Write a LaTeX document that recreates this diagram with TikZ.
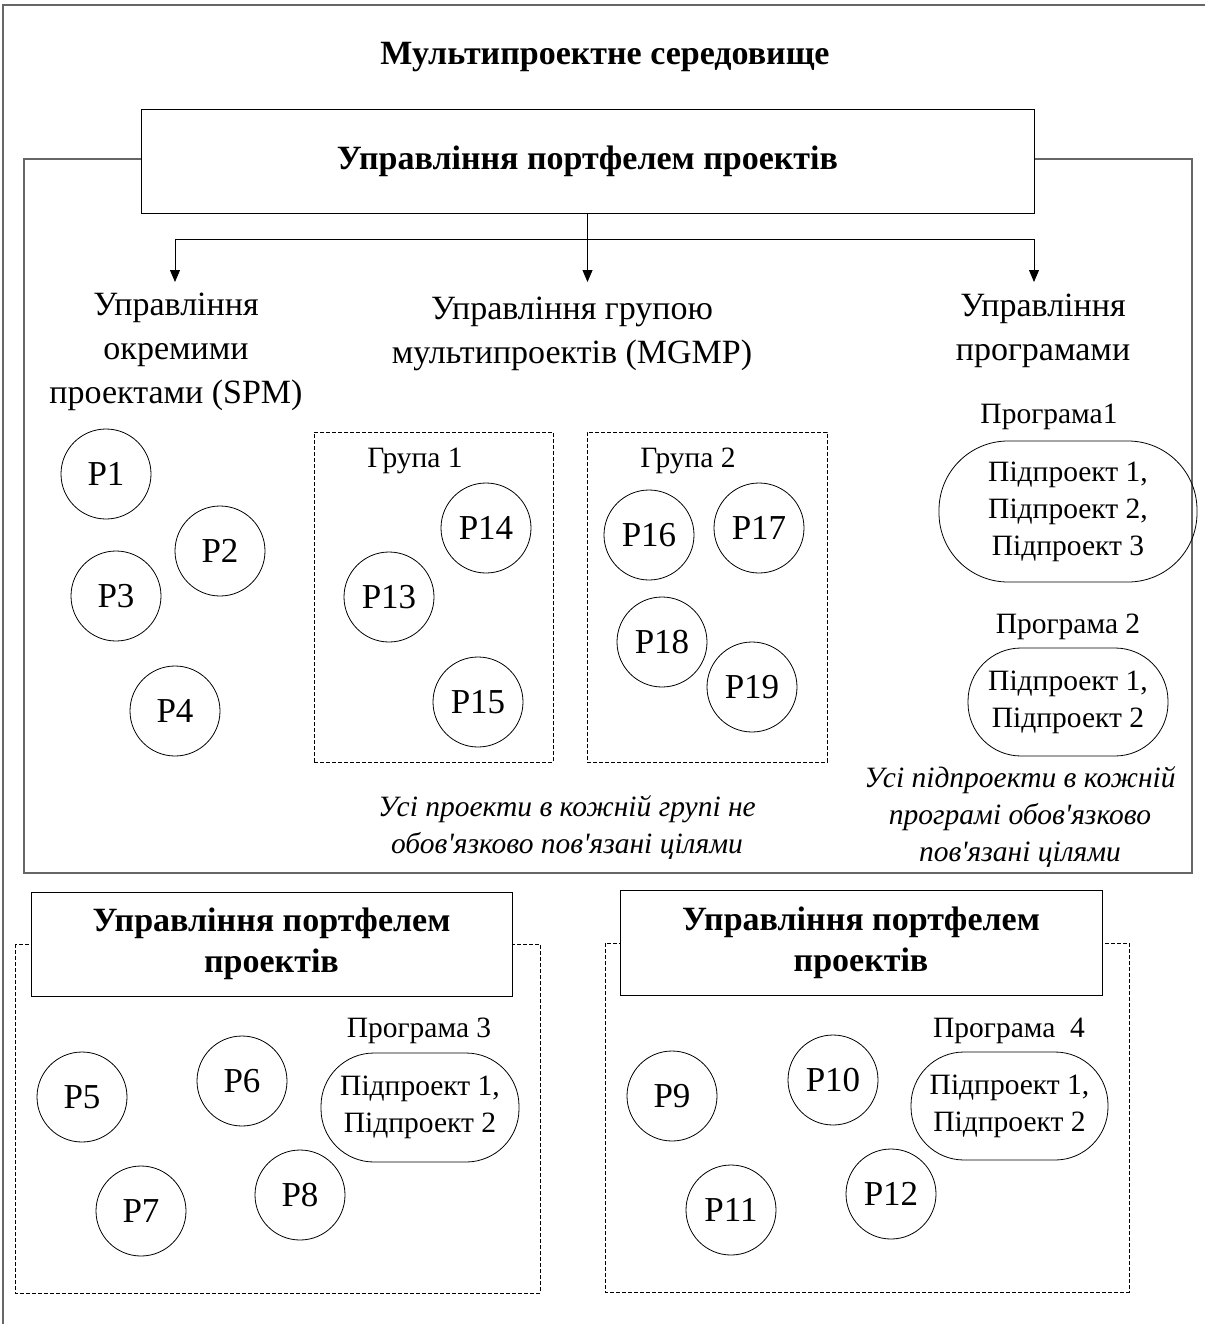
\documentclass[tikz,border=0pt]{standalone}
\usepackage{fontspec}
\setmainfont{Liberation Serif}
\usetikzlibrary{arrows.meta}
\begin{document}
\begin{tikzpicture}[x=1pt,y=-1pt,
  proj/.style={draw, circle, minimum size=90pt, inner sep=0pt, line width=0.8pt, font=\fontsize{35}{40}\selectfont},
  prog/.style={draw, align=center, inner sep=0pt, line width=0.8pt, font=\fontsize{29.5}{37}\selectfont},
  hdr/.style={align=center, inner sep=0pt, font=\fontsize{34}{44}\selectfont},
  pmbox/.style={draw, fill=white, line width=0.9pt, align=center, inner sep=0pt, font=\bfseries\fontsize{34}{41}\selectfont},
  grp/.style={draw, dash pattern=on 4pt off 2pt, line width=0.7pt, inner sep=0pt},
  note/.style={align=center, inner sep=0pt, font=\itshape\fontsize{29.5}{37}\selectfont},
  lbl/.style={inner sep=0pt, anchor=base, font=\fontsize{29.5}{34}\selectfont},
  framel/.style={draw=black!60, line width=1.5pt},
  arr/.style={-{Triangle[length=12pt,width=10pt]}, line width=0.8pt}]
\useasboundingbox (0,0) rectangle (1205,1324);
% outer frame (cropped)
\draw[framel] (1205,5) -- (3,5) -- (3,1324);
\node[inner sep=0pt, anchor=base, font=\bfseries\fontsize{34}{40}\selectfont] (title) at (605,65) {Мультипроектне середовище};
% inner frame
\draw[framel] (24,159) rectangle (1192,873);
\node[pmbox, minimum width=893pt, minimum height=104pt] (pm) at (587.5,161) {Управління портфелем проектів};
% connectors
\coordinate (barL) at (175,239);
\coordinate (barR) at (1034,239);
\coordinate (tL) at (175,282);
\coordinate (tR) at (1034,282);
\draw[line width=0.8pt] (pm.south) -- (pm.south |- barL) coordinate (barM);
\draw[line width=0.8pt] (barL) -- (barR);
\coordinate (tM) at (barM |- tL);
\draw[arr] (barL) -- (tL);
\draw[arr] (barM) -- (tM);
\draw[arr] (barR) -- (tR);
% headers
\node[hdr] (h1) at (176,352) {Управління\\окремими\\проектами (SPM)};
\node[hdr] (h2) at (572,334) {Управління групою\\мультипроектів (MGMP)};
\node[hdr] (h3) at (1043,331) {Управління\\програмами};
% SPM projects
\node[proj] (p1) at (106,474) {P1};
\node[proj] (p2) at (220,551) {P2};
\node[proj] (p3) at (116,596) {P3};
\node[proj] (p4) at (175,711) {P4};
% groups
\node[grp, minimum width=239pt, minimum height=330pt] (g1) at (433.5,597) {};
\node[grp, minimum width=240pt, minimum height=330pt] (g2) at (707,597) {};
\node[lbl] (g1l) at (415,467) {Група 1};
\node[lbl] (g2l) at (688,467) {Група 2};
\node[proj] (p13) at (389,597) {P13};
\node[proj] (p14) at (486,528) {P14};
\node[proj] (p15) at (478,702) {P15};
\node[proj] (p16) at (649,535) {P16};
\node[proj] (p17) at (759,528) {P17};
\node[proj] (p18) at (662,642) {P18};
\node[proj] (p19) at (752,687) {P19};
\node[note] (n1) at (567,827) {Усі проекти в кожній групі не\\обов\textquotesingle язково пов\textquotesingle язані цілями};
% programs
\node[lbl] (pr1l) at (1049,423) {Програма1};
\node[prog, minimum width=258pt, minimum height=141pt, rounded corners=69pt] (s1) at (1068,511.5) {Підпроект 1,\\Підпроект 2,\\ Підпроект 3};
\node[lbl] (pr2l) at (1068,633) {Програма 2};
\node[prog, minimum width=200pt, minimum height=108pt, rounded corners=53pt] (s2) at (1068,702) {Підпроект 1,\\ Підпроект 2};
\node[note] (n2) at (1020,817) {Усі підпроекти в кожній\\програмі обов\textquotesingle язково\\пов\textquotesingle язані цілями};
% bottom left portfolio
\draw[grp] (15,944) rectangle (540,1293);
\node[pmbox, minimum width=481pt, minimum height=104pt] (pmL) at (271.5,944) {Управління портфелем\\проектів};
\node[lbl] (pr3l) at (419,1037) {Програма 3};
\node[prog, minimum width=198pt, minimum height=109pt, rounded corners=53pt] (s3) at (420,1107.5) {Підпроект 1,\\ Підпроект 2};
\node[proj] (p5) at (82,1097) {P5};
\node[proj] (p6) at (242,1081) {P6};
\node[proj] (p7) at (141,1211) {P7};
\node[proj] (p8) at (300,1195) {P8};
% bottom right portfolio
\draw[grp] (605,943) rectangle (1129,1292);
\node[pmbox, minimum width=482pt, minimum height=105pt] (pmR) at (861,942.5) {Управління портфелем\\проектів};
\node[lbl] (pr4l) at (1009,1037) {Програма\hspace{0.5em}4};
\node[prog, minimum width=197pt, minimum height=108pt, rounded corners=53pt] (s4) at (1009.5,1106) {Підпроект 1,\\ Підпроект 2};
\node[proj] (p9) at (672,1096) {P9};
\node[proj] (p10) at (833,1080) {P10};
\node[proj] (p11) at (731,1210) {P11};
\node[proj] (p12) at (891,1194) {P12};
\end{tikzpicture}
\end{document}
